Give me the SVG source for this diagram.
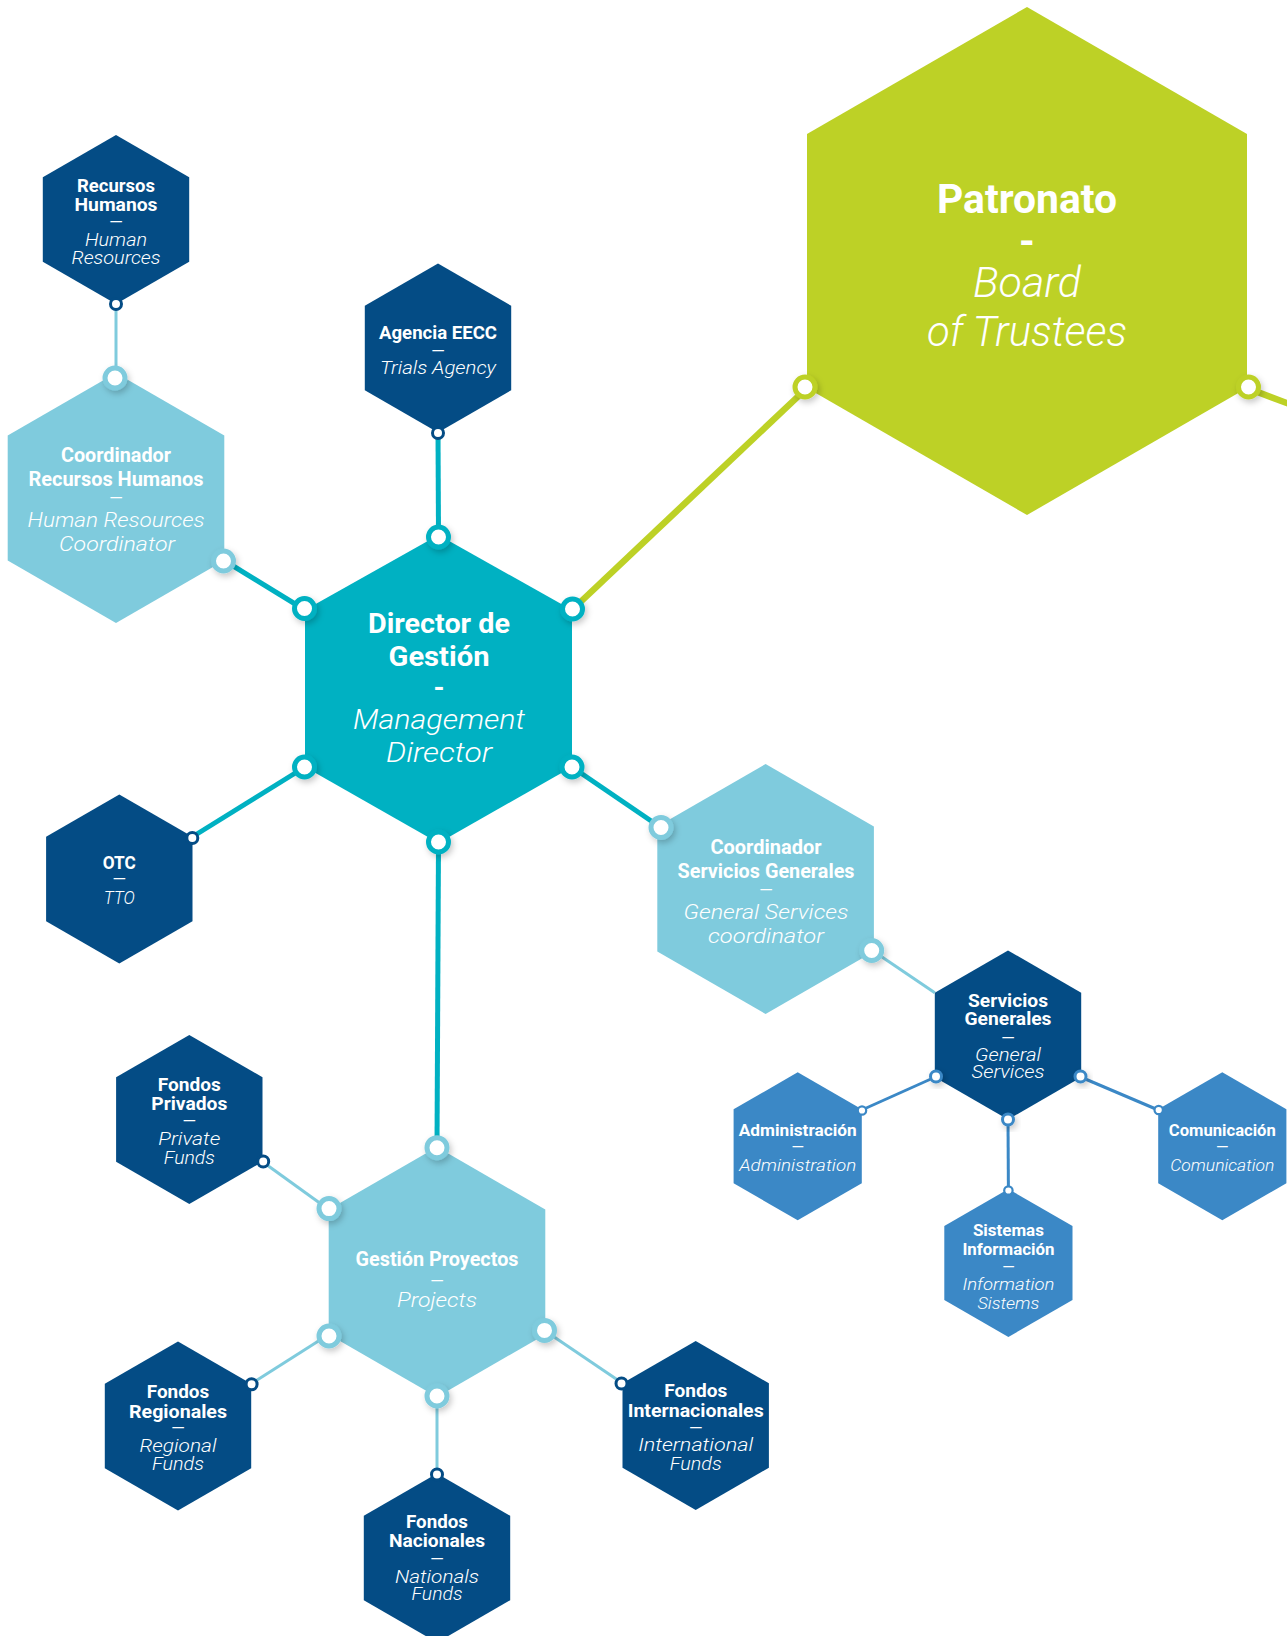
<svg xmlns="http://www.w3.org/2000/svg" width="1287" height="1636" viewBox="0 0 1287 1636">
<defs>
<filter id="sh" x="-60%" y="-60%" width="220%" height="220%">
<feDropShadow dx="2" dy="3" stdDeviation="3" flood-color="#000" flood-opacity="0.22"/>
</filter>
</defs>
<style>
text{font-family:Roboto,"Open Sans","Liberation Sans",sans-serif;fill:#fff;text-anchor:middle}
.b{font-weight:700}
.i{font-style:italic;font-weight:300}
.d{font-weight:700;font-size:12px}
.D{font-weight:700;font-size:13px}
.dk{fill:#044c85}.md{fill:#3b88c6}.lt{fill:#7fcbdd}.tl{fill:#00b1c2}.gr{fill:#bdd126}
.c-tl{stroke:#00b1c2;stroke-width:5;fill:none}
.c-gr{stroke:#bdd126;stroke-width:6.5;fill:none}
.c-lt{stroke:#7fcbdd;stroke-width:3;fill:none}
.c-md{stroke:#3b88c6;stroke-width:3;fill:none}
.p{fill:#fff}
.p-tl{stroke:#00b1c2;stroke-width:5}
.p-gr{stroke:#bdd126;stroke-width:5}
.p-lt{stroke:#7fcbdd;stroke-width:5}
.p-md{stroke:#3b88c6;stroke-width:3}
.p-dk{stroke:#044c85;stroke-width:3}
.p-sm{stroke:#3b88c6;stroke-width:2.2}
</style>

<g id="connectors">
<line class="c-lt" x1="116" y1="304" x2="116" y2="376"/>
<line class="c-tl" x1="438" y1="432.5" x2="438.5" y2="535"/>
<line class="c-tl" x1="224.3" y1="560.5" x2="305" y2="610"/>
<line class="c-tl" x1="192.5" y1="836.75" x2="305" y2="767"/>
<line class="c-tl" x1="572" y1="767" x2="660" y2="827"/>
<line class="c-gr" x1="572" y1="610" x2="807" y2="388"/>
<line class="c-gr" x1="1247" y1="388" x2="1292" y2="405"/>
<line class="c-tl" x1="438.5" y1="843" x2="437" y2="1147"/>
<line class="c-lt" x1="873.9" y1="951.5" x2="934.8" y2="992.75"/>
<line class="c-md" x1="934.8" y1="1077.25" x2="861.8" y2="1110"/>
<line class="c-md" x1="1081.2" y1="1077.25" x2="1158.2" y2="1110"/>
<line class="c-md" x1="1008" y1="1119.5" x2="1008.4" y2="1189"/>
<line class="c-lt" x1="262.5" y1="1161.75" x2="328.7" y2="1209.5"/>
<line class="c-lt" x1="328.7" y1="1334.5" x2="251.2" y2="1383.75"/>
<line class="c-lt" x1="545.3" y1="1331" x2="622.5" y2="1383.25"/>
<line class="c-lt" x1="437" y1="1397" x2="437" y2="1473.5"/>
</g>

<g id="patronato">
<polygon class="gr" points="1027,7 1247,134 1247,388 1027,515 807,388 807,134"/>
<text class="b" x="1027" y="213" font-size="41" textLength="180" lengthAdjust="spacingAndGlyphs">Patronato</text>
<text class="b" x="1027" y="255" font-size="40">-</text>
<text class="i" x="1027" y="297" font-size="43" textLength="108" lengthAdjust="spacingAndGlyphs">Board</text>
<text class="i" x="1027" y="346" font-size="43" textLength="200" lengthAdjust="spacingAndGlyphs">of Trustees</text>
<circle class="p p-gr" cx="805" cy="387" r="10" filter="url(#sh)"/>
<circle class="p p-gr" cx="1248.5" cy="387" r="10" filter="url(#sh)"/>
</g>

<g id="director">
<polygon class="tl" points="438.5,535 572,610 572,767 438.5,843 305,767 305,610"/>
<text class="b" x="439" y="633" font-size="28" textLength="142" lengthAdjust="spacingAndGlyphs">Director de</text>
<text class="b" x="439" y="665.7" font-size="28" textLength="101" lengthAdjust="spacingAndGlyphs">Gestión</text>
<text class="b" x="439" y="697" font-size="28">-</text>
<text class="i" x="439" y="729" font-size="28" textLength="172" lengthAdjust="spacingAndGlyphs">Management</text>
<text class="i" x="439" y="761.7" font-size="28" textLength="106" lengthAdjust="spacingAndGlyphs">Director</text>
<circle class="p p-tl" cx="438.5" cy="537" r="10" filter="url(#sh)"/>
<circle class="p p-tl" cx="304.5" cy="608.5" r="10" filter="url(#sh)"/>
<circle class="p p-tl" cx="572.5" cy="609" r="10" filter="url(#sh)"/>
<circle class="p p-tl" cx="304.5" cy="767" r="10" filter="url(#sh)"/>
<circle class="p p-tl" cx="572" cy="767" r="10" filter="url(#sh)"/>
<circle class="p p-tl" cx="438.5" cy="842" r="10" filter="url(#sh)"/>
</g>

<g id="recursos-humanos">
<polygon class="dk" points="116,135 189.2,177.25 189.2,261.75 116,304 42.8,261.75 42.8,177.25"/>
<text class="b" x="116" y="191.7" font-size="18.5" textLength="78" lengthAdjust="spacingAndGlyphs">Recursos</text>
<text class="b" x="116" y="210.7" font-size="18.5" textLength="83" lengthAdjust="spacingAndGlyphs">Humanos</text>
<text class="d" x="116" y="226" textLength="13" lengthAdjust="spacingAndGlyphs">—</text>
<text class="i" x="116" y="246" font-size="18.5" textLength="62" lengthAdjust="spacingAndGlyphs">Human</text>
<text class="i" x="116" y="264" font-size="18.5" textLength="89" lengthAdjust="spacingAndGlyphs">Resources</text>
<circle class="p p-dk" cx="116" cy="304" r="5.5"/>
</g>

<g id="coordinador-rrhh">
<polygon class="lt" points="116,373 224.3,435.5 224.3,560.5 116,623 7.7,560.5 7.7,435.5"/>
<text class="b" x="116" y="461.7" font-size="21" textLength="110" lengthAdjust="spacingAndGlyphs">Coordinador</text>
<text class="b" x="116" y="485.7" font-size="21" textLength="175" lengthAdjust="spacingAndGlyphs">Recursos Humanos</text>
<text class="D" x="116" y="502" textLength="13" lengthAdjust="spacingAndGlyphs">—</text>
<text class="i" x="116" y="527" font-size="21" textLength="177" lengthAdjust="spacingAndGlyphs">Human Resources</text>
<text class="i" x="117" y="550.7" font-size="21" textLength="116" lengthAdjust="spacingAndGlyphs">Coordinator</text>
<circle class="p p-lt" cx="115" cy="378" r="10" filter="url(#sh)"/>
<circle class="p p-lt" cx="223.5" cy="561" r="10" filter="url(#sh)"/>
</g>

<g id="agencia-eecc">
<polygon class="dk" points="438,263.5 511.2,305.75 511.2,390.25 438,432.5 364.8,390.25 364.8,305.75"/>
<text class="b" x="438" y="339.3" font-size="18.5" textLength="118" lengthAdjust="spacingAndGlyphs">Agencia EECC</text>
<text class="d" x="438" y="355" textLength="13" lengthAdjust="spacingAndGlyphs">—</text>
<text class="i" x="438" y="374" font-size="18.5" textLength="116" lengthAdjust="spacingAndGlyphs">Trials Agency</text>
<circle class="p p-dk" cx="438" cy="433" r="5.5"/>
</g>

<g id="otc">
<polygon class="dk" points="119.3,794.5 192.5,836.75 192.5,921.25 119.3,963.5 46.1,921.25 46.1,836.75"/>
<text class="b" x="119.3" y="869.3" font-size="18.5" textLength="33" lengthAdjust="spacingAndGlyphs">OTC</text>
<text class="d" x="119.3" y="882.5" textLength="13" lengthAdjust="spacingAndGlyphs">—</text>
<text class="i" x="119.3" y="904" font-size="18.5" textLength="31" lengthAdjust="spacingAndGlyphs">TTO</text>
<circle class="p p-dk" cx="192.3" cy="838" r="5.5"/>
</g>

<g id="coordinador-sg">
<polygon class="lt" points="765.6,764 873.9,826.5 873.9,951.5 765.6,1014 657.3,951.5 657.3,826.5"/>
<text class="b" x="766" y="854" font-size="21" textLength="111" lengthAdjust="spacingAndGlyphs">Coordinador</text>
<text class="b" x="766" y="877.8" font-size="21" textLength="177" lengthAdjust="spacingAndGlyphs">Servicios Generales</text>
<text class="D" x="766" y="894.4" textLength="13" lengthAdjust="spacingAndGlyphs">—</text>
<text class="i" x="766" y="919" font-size="21" textLength="165" lengthAdjust="spacingAndGlyphs">General Services</text>
<text class="i" x="766" y="942.8" font-size="21" textLength="116" lengthAdjust="spacingAndGlyphs">coordinator</text>
<circle class="p p-lt" cx="661" cy="827.5" r="10" filter="url(#sh)"/>
<circle class="p p-lt" cx="871.7" cy="950.5" r="10" filter="url(#sh)"/>
</g>

<g id="servicios-generales">
<polygon class="dk" points="1008,950.5 1081.2,992.75 1081.2,1077.25 1008,1119.5 934.8,1077.25 934.8,992.75"/>
<text class="b" x="1008" y="1006.7" font-size="18.5" textLength="80" lengthAdjust="spacingAndGlyphs">Servicios</text>
<text class="b" x="1008" y="1025" font-size="18.5" textLength="87" lengthAdjust="spacingAndGlyphs">Generales</text>
<text class="d" x="1008" y="1041.5" textLength="13" lengthAdjust="spacingAndGlyphs">—</text>
<text class="i" x="1008" y="1060.7" font-size="18.5" textLength="66" lengthAdjust="spacingAndGlyphs">General</text>
<text class="i" x="1008" y="1078.3" font-size="18.5" textLength="73" lengthAdjust="spacingAndGlyphs">Services</text>
<circle class="p p-md" cx="936" cy="1076.5" r="5.5" filter="url(#sh)"/>
<circle class="p p-md" cx="1080.5" cy="1076.5" r="5.5" filter="url(#sh)"/>
<circle class="p p-md" cx="1008" cy="1119.5" r="5.5" filter="url(#sh)"/>
</g>

<g id="administracion">
<polygon class="md" points="797.7,1072.3 861.8,1109.3 861.8,1183.3 797.7,1220.3 733.6,1183.3 733.6,1109.3"/>
<text class="b" x="797.7" y="1136" font-size="17" textLength="118" lengthAdjust="spacingAndGlyphs">Administración</text>
<text class="d" x="797.7" y="1151" textLength="12" lengthAdjust="spacingAndGlyphs">—</text>
<text class="i" x="797.7" y="1171" font-size="17" textLength="117" lengthAdjust="spacingAndGlyphs">Administration</text>
<circle class="p p-sm" cx="862" cy="1110.5" r="4.2"/>
</g>

<g id="comunicacion">
<polygon class="md" points="1222.3,1072.3 1286.4,1109.3 1286.4,1183.3 1222.3,1220.3 1158.2,1183.3 1158.2,1109.3"/>
<text class="b" x="1222.3" y="1136" font-size="17" textLength="107" lengthAdjust="spacingAndGlyphs">Comunicación</text>
<text class="d" x="1222.3" y="1151" textLength="12" lengthAdjust="spacingAndGlyphs">—</text>
<text class="i" x="1222.3" y="1171" font-size="17" textLength="104" lengthAdjust="spacingAndGlyphs">Comunication</text>
<circle class="p p-sm" cx="1158.7" cy="1110" r="4.2"/>
</g>

<g id="sistemas-informacion">
<polygon class="md" points="1008.4,1189 1072.5,1226 1072.5,1300 1008.4,1337 944.3,1300 944.3,1226"/>
<text class="b" x="1008.4" y="1235.6" font-size="17" textLength="71" lengthAdjust="spacingAndGlyphs">Sistemas</text>
<text class="b" x="1008.4" y="1254.7" font-size="17" textLength="92" lengthAdjust="spacingAndGlyphs">Información</text>
<text class="d" x="1008.4" y="1271" textLength="12" lengthAdjust="spacingAndGlyphs">—</text>
<text class="i" x="1008.4" y="1290" font-size="17" textLength="92" lengthAdjust="spacingAndGlyphs">Information</text>
<text class="i" x="1008.4" y="1309" font-size="17" textLength="62" lengthAdjust="spacingAndGlyphs">Sistems</text>
<circle class="p p-sm" cx="1008.4" cy="1190.5" r="4.2"/>
</g>

<g id="gestion-proyectos">
<polygon class="lt" points="437,1147 545.3,1209.5 545.3,1334.5 437,1397 328.7,1334.5 328.7,1209.5"/>
<text class="b" x="437" y="1265.6" font-size="21" textLength="163" lengthAdjust="spacingAndGlyphs">Gestión Proyectos</text>
<text class="D" x="437" y="1284.5" textLength="13" lengthAdjust="spacingAndGlyphs">—</text>
<text class="i" x="437" y="1306.8" font-size="21" textLength="80" lengthAdjust="spacingAndGlyphs">Projects</text>
<circle class="p p-lt" cx="437" cy="1147.7" r="10" filter="url(#sh)"/>
<circle class="p p-lt" cx="329" cy="1208.6" r="10" filter="url(#sh)"/>
<circle class="p p-lt" cx="329" cy="1336" r="10" filter="url(#sh)"/>
<circle class="p p-lt" cx="544.5" cy="1330.4" r="10" filter="url(#sh)"/>
<circle class="p p-lt" cx="437" cy="1396" r="10" filter="url(#sh)"/>
</g>

<g id="fondos-privados">
<polygon class="dk" points="189.3,1035 262.5,1077.25 262.5,1161.75 189.3,1204 116.1,1161.75 116.1,1077.25"/>
<text class="b" x="189.3" y="1090.7" font-size="18.5" textLength="63" lengthAdjust="spacingAndGlyphs">Fondos</text>
<text class="b" x="189.3" y="1109.6" font-size="18.5" textLength="76" lengthAdjust="spacingAndGlyphs">Privados</text>
<text class="d" x="189.3" y="1125" textLength="13" lengthAdjust="spacingAndGlyphs">—</text>
<text class="i" x="189.3" y="1145" font-size="18.5" textLength="62" lengthAdjust="spacingAndGlyphs">Private</text>
<text class="i" x="189.3" y="1163.8" font-size="18.5" textLength="51" lengthAdjust="spacingAndGlyphs">Funds</text>
<circle class="p p-dk" cx="263.2" cy="1161.5" r="5.5"/>
</g>

<g id="fondos-regionales">
<polygon class="dk" points="178,1341.5 251.2,1383.75 251.2,1468.25 178,1510.5 104.8,1468.25 104.8,1383.75"/>
<text class="b" x="178" y="1398" font-size="18.5" textLength="62.5" lengthAdjust="spacingAndGlyphs">Fondos</text>
<text class="b" x="178" y="1417.6" font-size="18.5" textLength="98" lengthAdjust="spacingAndGlyphs">Regionales</text>
<text class="d" x="178" y="1432" textLength="13" lengthAdjust="spacingAndGlyphs">—</text>
<text class="i" x="178" y="1452.2" font-size="18.5" textLength="77" lengthAdjust="spacingAndGlyphs">Regional</text>
<text class="i" x="178" y="1470" font-size="18.5" textLength="52" lengthAdjust="spacingAndGlyphs">Funds</text>
<circle class="p p-dk" cx="251.6" cy="1384.3" r="5.5"/>
</g>

<g id="fondos-internacionales">
<polygon class="dk" points="695.7,1341 768.9,1383.25 768.9,1467.75 695.7,1510 622.5,1467.75 622.5,1383.25"/>
<text class="b" x="695.7" y="1397" font-size="18.5" textLength="63" lengthAdjust="spacingAndGlyphs">Fondos</text>
<text class="b" x="695.7" y="1416.9" font-size="18.5" textLength="136" lengthAdjust="spacingAndGlyphs">Internacionales</text>
<text class="d" x="695.7" y="1431.5" textLength="13" lengthAdjust="spacingAndGlyphs">—</text>
<text class="i" x="695.7" y="1451.4" font-size="18.5" textLength="115" lengthAdjust="spacingAndGlyphs">International</text>
<text class="i" x="695.7" y="1470" font-size="18.5" textLength="52" lengthAdjust="spacingAndGlyphs">Funds</text>
<circle class="p p-dk" cx="621.5" cy="1383.5" r="5.5"/>
</g>

<g id="fondos-nacionales">
<polygon class="dk" points="437,1473.5 510.2,1515.75 510.2,1600.25 437,1642.5 363.8,1600.25 363.8,1515.75"/>
<text class="b" x="437" y="1528.3" font-size="18.5" textLength="62" lengthAdjust="spacingAndGlyphs">Fondos</text>
<text class="b" x="437" y="1547.3" font-size="18.5" textLength="96" lengthAdjust="spacingAndGlyphs">Nacionales</text>
<text class="d" x="437" y="1562.5" textLength="13" lengthAdjust="spacingAndGlyphs">—</text>
<text class="i" x="437" y="1582.7" font-size="18.5" textLength="84" lengthAdjust="spacingAndGlyphs">Nationals</text>
<text class="i" x="437" y="1600" font-size="18.5" textLength="51" lengthAdjust="spacingAndGlyphs">Funds</text>
<circle class="p p-dk" cx="437" cy="1474.5" r="5.5"/>
</g>
</svg>
